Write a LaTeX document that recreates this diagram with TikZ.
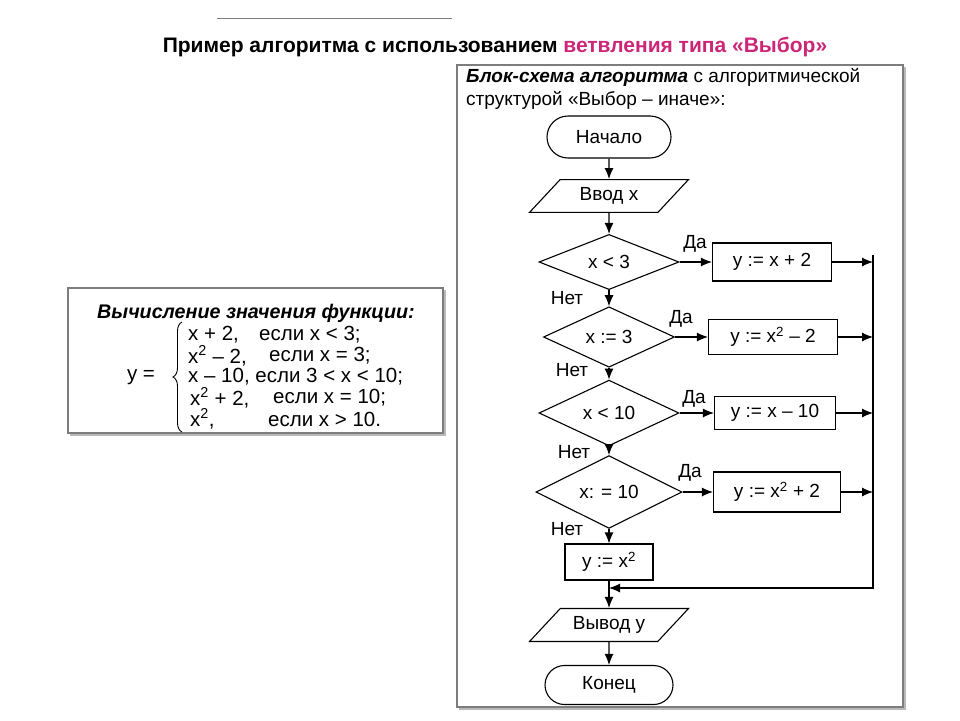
\documentclass[tikz,border=0pt]{standalone}
\usepackage{xcolor}
\usepackage{fontspec}
\setmainfont{Liberation Sans}
\usepackage{tikz}
\usetikzlibrary{shapes.geometric, shapes.misc, arrows.meta, positioning, calc, decorations.pathreplacing}
\definecolor{titlepink}{RGB}{204,38,120}
\definecolor{framegray}{RGB}{125,125,125}

\begin{document}
\begin{tikzpicture}[x=1pt, y=-1pt,
    >={Latex[length=11pt,width=9pt]},
    every node/.style={font=\fontsize{19}{22}\selectfont, inner sep=0pt},
    flow/.style={draw, line width=1.1pt},
    term/.style={flow, rounded rectangle, minimum width=124pt, minimum height=42pt},
    io/.style={flow, trapezium, trapezium left angle=47, trapezium right angle=133, trapezium stretches body=true, inner ysep=8pt, minimum width=159pt},
    cond/.style={flow, diamond, minimum width=140pt, minimum height=50pt},
    act/.style={flow, rectangle, minimum width=120pt, minimum height=38pt},
    line/.style={line width=1.1pt, ->},
    frame/.style={draw=framegray, line width=1.6pt},
    shade/.style={draw=gray!55, line width=2pt},
    formula/.style={anchor=west, font=\fontsize{20.5}{24}\selectfont}]
    \useasboundingbox (0,0) rectangle (960,720);

    \draw[gray, line width=0.8pt] (217,18) -- (452,18);
    \node (title) at (495,47) {\fontsize{21}{24}\selectfont\bfseries Пример алгоритма с использованием \textcolor{titlepink}{ветвления типа «Выбор»}};

    \draw[shade] (70,435) -- (445,435) -- (445,290);
    \draw[frame] (68,288) rectangle (443,433);
    \node (ftitle) at (256,313) {\fontsize{19.7}{23}\selectfont\bfseries\itshape Вычисление значения функции:};
    \node[font=\fontsize{20.5}{24}\selectfont] (yeq) at (141,377) {y =};
    \draw[line width=0.9pt, decorate, decoration={brace, amplitude=9pt}] (182,432) -- (182,322);
    \node[formula] (f1) at (188,335) {x + 2,};
    \node[formula] (g1) at (259,335) {если x < 3;};
    \node[formula] (f2) at (188,356) {x\textsuperscript{2} – 2,};
    \node[formula] (g2) at (269,356) {если x = 3;};
    \node[formula] (f3) at (188,377) {x – 10, если 3 < x < 10;};
    \node[formula] (f4) at (190,398) {x\textsuperscript{2} + 2,};
    \node[formula] (g4) at (273,398) {если x = 10;};
    \node[formula] (f5) at (190,419) {x\textsuperscript{2},};
    \node[formula] (g5) at (268,419) {если x > 10.};

    \draw[shade] (459,709) -- (905,709) -- (905,67);
    \draw[frame] (457,65) rectangle (903,707);
    \node[anchor=west] (head1) at (466,77) {\textbf{\textit{Блок-схема алгоритма}} с алгоритмической};
    \node[anchor=west] (head2) at (466,100) {структурой «Выбор – иначе»:};

    \node[term] (start) at (609,137) {Начало};
    \node[io] (input) at (609,196) {Ввод x};
    \node[cond] (c1) at (609,262) {x < 3};
    \node[act, minimum width=119pt] (a1) at (772,262) {y := x + 2};
    \node[cond, minimum width=131pt, minimum height=47pt] (c2) at (609,337) {x := 3};
    \node[act, minimum width=129pt, minimum height=35pt] (a2) at (773,337) {y := x\textsuperscript{2} – 2};
    \node[cond] (c3) at (609,413) {x < 10};
    \node[act, minimum width=121pt, minimum height=33pt] (a3) at (775,413) {y := x – 10};
    \node[cond, minimum width=146pt, minimum height=48pt] (c4) at (609,492) {x: = 10};
    \node[act, minimum width=127pt, minimum height=40pt] (a4) at (777,492) {y := x\textsuperscript{2} + 2};
    \node[act, minimum width=88pt, minimum height=36pt] (a5) at (609,562) {y := x\textsuperscript{2}};
    \node[io] (output) at (609,625) {Вывод y};
    \node[term, minimum width=128pt, minimum height=39pt] (stop) at (609,685) {Конец};

    \node (yes1) at (695,244) {Да};
    \node (yes2) at (681,319) {Да};
    \node (yes3) at (694,399) {Да};
    \node (yes4) at (690,473) {Да};
    \node (no1) at (567,298) {Нет};
    \node (no2) at (572,370) {Нет};
    \node (no3) at (574,452) {Нет};
    \node (no4) at (567,529) {Нет};

    \coordinate (mtop) at (873,255);
    \coordinate (m1) at (873,262);
    \coordinate (m2) at (873,337);
    \coordinate (m3) at (873,413);
    \coordinate (m4) at (873,492);
    \coordinate (mbot) at (873,588);
    \coordinate (mjoin) at (609,588);

    \draw[line] (start) -- (input);
    \draw[line] (input) -- (c1);
    \draw[line] (c1) -- (c2);
    \draw[line] (c2) -- (c3);
    \draw[line] (c3) -- (c4);
    \draw[line] (c4) -- (a5);
    \draw[line] (a5) -- (output);
    \draw[line] (output) -- (stop);
    \draw[line] (c1) -- (a1);
    \draw[line] (c2) -- (a2);
    \draw[line] (c3) -- (a3);
    \draw[line] (c4) -- (a4);
    \draw[line] (a1) -- (m1);
    \draw[line] (a2) -- (m2);
    \draw[line] (a3) -- (m3);
    \draw[line] (a4) -- (m4);
    \draw[line] (mtop) -- (mbot) -- (mjoin);
\end{tikzpicture}
\end{document}
